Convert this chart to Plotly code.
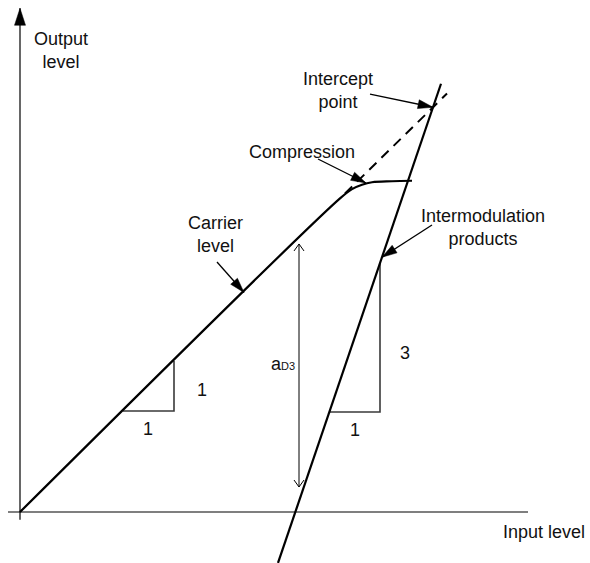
import math
import plotly.graph_objects as go

# ---------------- conceptual data (level units; carrier slope 1, IM3 slope 3) -------------
carrier_in = [0, 320, 332, 342, 352, 372, 392]
carrier_out = [0, 320, 329.5, 334, 336.5, 337.5, 338]

extrap_in = [325, 427]
extrap_out = [325, 427]

im_in = [258, 421]
im_out = [-52, 437]

intercept = (413, 413)

slope1_tri_x = [103, 154, 154]
slope1_tri_y = [103, 103, 154]

slope3_tri_x = [309.3, 360, 360]
slope3_tri_y = [102, 102, 254]

ad3_x = [279, 279]
ad3_y = [25.5, 273.5]

yaxis_line = ([0, 0], [-8, 514])
xaxis_line = ([-12, 508], [0, 0])

# callouts: (text, text_x, text_y, tail_x, tail_y, tip_x, tip_y)
callouts = [
    ("Intercept<br>point", 318, 430.6, 350, 426.5, 413, 413),
    ("Compression", 282, 367.3, 298, 360.2, 346, 335.7),
    ("Carrier<br>level", 195, 282.7, 197, 255.1, 224, 224),
    ("Intermodulation<br>products", 463, 290.8, 412, 292.9, 362, 260),
]

plain_labels = [
    ("Output<br>level", 41, 470.9, "center"),
    ("Input level", 567, -20.4, "right"),
    ("1", 182, 124.5, "center"),
    ("1", 128, 84.7, "center"),
    ("1", 335, 83.7, "center"),
    ("3", 385, 162.2, "center"),
    ("a<span style='font-size:11px'>D3</span>", 263, 151, "center"),
]

# pixel scale of data units (x: 1 px/unit, y: 0.98 px/unit)
PX_X, PX_Y = 1.0, 0.98
W, H = 590, 563
X_RANGE = [-20, -20 + W / PX_X]
Y_RANGE = [-(H - 512) / PX_Y, 512 / PX_Y]

FONT = "Liberation Sans, Arial, sans-serif"
FS = 18


def head(xt, yt, xp, yp, length, half):
    dx, dy = (xp - xt) * PX_X, (yp - yt) * PX_Y
    L = math.hypot(dx, dy)
    ux, uy = dx / L, dy / L
    bx, by = xp * PX_X - ux * length, yp * PX_Y - uy * length
    p1 = ((bx - uy * half) / PX_X, (by + ux * half) / PX_Y)
    p2 = ((bx + uy * half) / PX_X, (by - ux * half) / PX_Y)
    return [xp, p1[0], p2[0], xp], [yp, p1[1], p2[1], yp]


def open_head(xt, yt, xp, yp, length, half):
    xs, ys = head(xt, yt, xp, yp, length, half)
    return [xs[1], xs[0], xs[2]], [ys[1], ys[0], ys[2]]


fig = go.Figure()


def line(xs, ys, width=2, color="black", dash="solid", shape="linear"):
    fig.add_trace(go.Scatter(x=xs, y=ys, mode="lines",
                             line=dict(color=color, width=width, dash=dash, shape=shape),
                             hoverinfo="skip", showlegend=False))


def filled(xs, ys, color="black"):
    fig.add_trace(go.Scatter(x=xs, y=ys, mode="lines", fill="toself", fillcolor=color,
                             line=dict(color=color, width=0.5),
                             hoverinfo="skip", showlegend=False))


# axes
line(*yaxis_line, width=1.2)
line(*xaxis_line, width=1.2)
filled(*head(0, 0, 0, 514, 17, 5.5))

# slope triangles
line(slope1_tri_x, slope1_tri_y, width=1.6, color="#3a3a3a")
line(slope3_tri_x, slope3_tri_y, width=1.6, color="#3a3a3a")

# main curves
line(carrier_in, carrier_out, width=2.2, shape="spline")
line(extrap_in, extrap_out, width=2, dash="10px,7px")
line(im_in, im_out, width=2.2)

# aD3 double arrow
line(ad3_x, ad3_y, width=1)
line(*open_head(ad3_x[0], ad3_y[0], ad3_x[1], ad3_y[1], 7, 5), width=1)
line(*open_head(ad3_x[1], ad3_y[1], ad3_x[0], ad3_y[0], 7, 5), width=1)

annotations = []
for text, tx, ty, xt, yt, xp, yp in callouts:
    line([xt, xp], [yt, yp], width=1.3)
    filled(*head(xt, yt, xp, yp, 15, 4.5))
    annotations.append(dict(x=tx, y=ty, text=text, showarrow=False,
                            font=dict(family=FONT, size=FS, color="#111"),
                            xanchor="center", yanchor="middle"))

for text, tx, ty, anchor in plain_labels:
    annotations.append(dict(x=tx, y=ty, text=text, showarrow=False,
                            font=dict(family=FONT, size=FS, color="#111"),
                            xanchor=anchor, yanchor="middle"))

fig.update_layout(
    width=W, height=H, autosize=False,
    margin=dict(l=0, r=0, t=0, b=0, pad=0),
    paper_bgcolor="white", plot_bgcolor="white",
    xaxis=dict(range=X_RANGE, visible=False, fixedrange=True),
    yaxis=dict(range=Y_RANGE, visible=False, fixedrange=True),
    annotations=annotations,
    showlegend=False,
)

fig.write_html("out.html",
               config={"displayModeBar": False, "staticPlot": True},
               post_script="document.body.style.margin='0';document.body.style.overflow='hidden';")
